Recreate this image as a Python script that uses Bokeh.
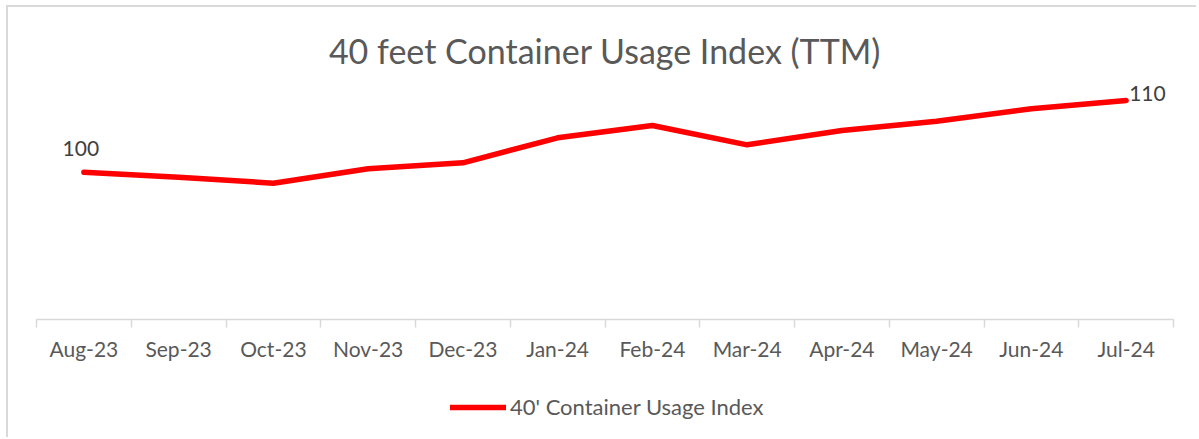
from bokeh.plotting import figure
from bokeh.layouts import column
from bokeh.models import FixedTicker, Legend, LegendItem, Range1d
from bokeh.core.properties import value
from bokeh.embed import file_html
from bokeh.resources import INLINE

months = ["Aug-23", "Sep-23", "Oct-23", "Nov-23", "Dec-23", "Jan-24",
          "Feb-24", "Mar-24", "Apr-24", "May-24", "Jun-24", "Jul-24"]
index_values = [100.0, 99.3, 98.47, 100.47, 101.31, 104.8,
                106.51, 103.82, 105.82, 107.11, 108.84, 110.0]
series_name = "40' Container Usage Index"
chart_title = "40 feet Container Usage Index (TTM)"

xs = list(range(len(months)))
FONT = "Lato"
LINE_COLOR = "#FF0000"
BORDER = "2px solid #d9d9d9"
W = 1190

p = figure(width=W, height=372, output_backend="svg", toolbar_location=None,
           x_range=Range1d(-0.5, len(months) - 0.5), y_range=Range1d(79.46, 112.79),
           min_border_left=28, min_border_right=W - 28 - 1137, min_border_top=73,
           min_border_bottom=60, title=chart_title)
p.styles = {"border-top": BORDER, "border-left": BORDER,
            "margin-top": "5px", "margin-left": "6px"}

p.title.align = "center"
p.title.text_font = FONT
p.title.text_font_size = "34px"
p.title.text_font_style = "normal"
p.title.text_color = "#595959"
p.title.standoff = 19

p.outline_line_color = None
p.xgrid.visible = False
p.ygrid.visible = False
p.yaxis.visible = False

ax = p.xaxis[0]
ax.ticker = FixedTicker(ticks=xs, minor_ticks=[i - 0.5 for i in range(len(months) + 1)])
ax.major_label_overrides = {i: m for i, m in enumerate(months)}
ax.major_tick_line_color = None
ax.minor_tick_line_color = "#d9d9d9"
ax.minor_tick_line_width = 1.5
ax.minor_tick_in = 0
ax.minor_tick_out = 8
ax.axis_line_color = "#d9d9d9"
ax.axis_line_width = 1.5
ax.major_label_standoff = 8
ax.major_label_text_font = FONT
ax.major_label_text_font_size = "21px"
ax.major_label_text_color = "#595959"

p.line(xs, index_values, line_color=LINE_COLOR, line_width=5.5,
       line_join="round", line_cap="round")

p.text(x=[xs[0]], y=[index_values[0]], text=[f"{index_values[0]:.0f}"],
       text_font=value(FONT), text_font_size="21px", text_color="#404040",
       text_align="center", text_baseline="bottom", x_offset=-3, y_offset=-16)
p.text(x=[xs[-1]], y=[index_values[-1]], text=[f"{index_values[-1]:.0f}"],
       text_font=value(FONT), text_font_size="21px", text_color="#404040",
       text_align="left", text_baseline="middle", x_offset=3, y_offset=-7)

# legend strip below the chart (the key line's data lies outside this strip's ranges)
p2 = figure(width=W, height=60, output_backend="svg", toolbar_location=None,
            x_range=Range1d(0, 1), y_range=Range1d(0, 1),
            x_axis_location=None, y_axis_location=None,
            min_border=0)
p2.styles = {"border-left": BORDER, "margin-left": "6px"}
p2.outline_line_color = None
p2.xgrid.visible = False
p2.ygrid.visible = False
key = p2.line(xs, index_values, line_color=LINE_COLOR, line_width=5.5, line_cap="round")
legend = Legend(items=[LegendItem(label=series_name, renderers=[key])],
                location=(414, 17), orientation="horizontal",
                glyph_width=56, glyph_height=24, label_standoff=4,
                label_text_font=FONT, label_text_font_size="22px",
                label_text_color="#595959", border_line_color=None,
                background_fill_alpha=0, margin=0, padding=0)
p2.add_layout(legend, "center")

layout = column(p, p2, spacing=0)
open("out.html", "w").write(file_html(layout, INLINE))
